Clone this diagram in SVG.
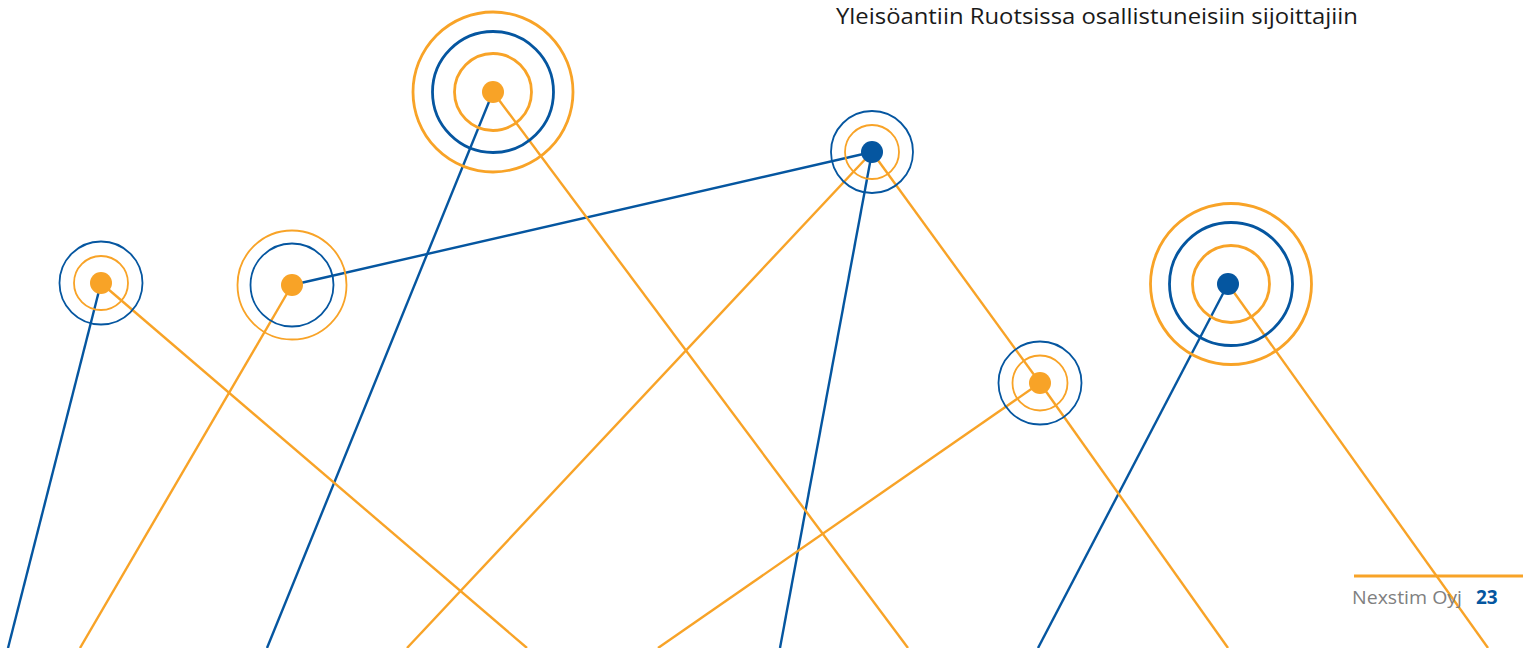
<svg xmlns="http://www.w3.org/2000/svg" width="1523" height="648" viewBox="0 0 1523 648">
<style>
.o{stroke:#F8A327;fill:none}
.b{stroke:#0556A0;fill:none}
.lo{stroke:#F8A327;stroke-width:2.4;fill:none}
.lb{stroke:#0556A0;stroke-width:2.4;fill:none}
.thin{stroke-width:1.8}
.thick{stroke-width:2.8}
.dO{fill:#F8A327}
.dB{fill:#0556A0}
</style>
<rect width="1523" height="648" fill="#ffffff"/>
<g id="connectors">
<line class="lb" x1="101" y1="283" x2="8" y2="648"/>
<line class="lb" x1="292" y1="285" x2="872" y2="152"/>
<line class="lb" x1="493" y1="92" x2="267" y2="648"/>
<line class="lb" x1="872" y1="152" x2="780" y2="648"/>
<line class="lb" x1="1228" y1="284" x2="1038" y2="648"/>
<line class="lo" x1="101" y1="283" x2="527" y2="648"/>
<line class="lo" x1="292" y1="285" x2="80" y2="648"/>
<line class="lo" x1="493" y1="92" x2="908" y2="648"/>
<line class="lo" x1="872" y1="152" x2="407" y2="648"/>
<line class="lo" x1="872" y1="152" x2="1040" y2="383"/>
<line class="lo" x1="1040" y1="383" x2="1228" y2="648"/>
<line class="lo" x1="1040" y1="383" x2="658" y2="648"/>
<line class="lo" x1="1228" y1="284" x2="1488" y2="648"/>
</g>
<g id="node-a">
<circle class="o thick" cx="493" cy="92" r="80"/>
<circle class="b thick" cx="493" cy="92" r="60.5"/>
<circle class="o thick" cx="493" cy="92" r="38.5"/>
<circle class="dO" cx="493" cy="92" r="11"/>
</g>
<g id="node-b">
<circle class="b thin" cx="872" cy="152" r="41"/>
<circle class="o thin" cx="872" cy="152" r="27"/>
<circle class="dB" cx="872" cy="152" r="11"/>
</g>
<g id="node-c">
<circle class="b thin" cx="101" cy="283" r="41.5"/>
<circle class="o thin" cx="101" cy="283" r="27"/>
<circle class="dO" cx="101" cy="283" r="11"/>
</g>
<g id="node-d">
<circle class="o thin" cx="292" cy="285" r="54.5"/>
<circle class="b thin" cx="292" cy="285" r="41.5"/>
<circle class="dO" cx="292" cy="285" r="11"/>
</g>
<g id="node-e">
<circle class="o thick" cx="1231" cy="284" r="80.5"/>
<circle class="b thick" cx="1231" cy="284" r="61.5"/>
<circle class="o thick" cx="1231" cy="284" r="38.5"/>
<circle class="dB" cx="1228" cy="284" r="11"/>
</g>
<g id="node-f">
<circle class="b thin" cx="1040" cy="383" r="41.5"/>
<circle class="o thin" cx="1040" cy="383" r="27.5"/>
<circle class="dO" cx="1040" cy="383" r="11"/>
</g>
<g id="title">
<text x="836" y="24" font-family="'Open Sans','Noto Sans',sans-serif" font-size="22.5" fill="#1a1a1a" textLength="522" lengthAdjust="spacingAndGlyphs">Yleisöantiin Ruotsissa osallistuneisiin sijoittajiin</text>
</g>
<g id="footer">
<line x1="1354" y1="576" x2="1523" y2="576" stroke="#F8A327" stroke-width="3.2"/>
<text x="1352" y="604" font-family="'Open Sans','Noto Sans',sans-serif" font-size="18" fill="#808080" textLength="110" lengthAdjust="spacingAndGlyphs">Nexstim Oyj</text>
<text x="1476" y="604" font-family="'Open Sans','Noto Sans',sans-serif" font-size="19" font-weight="bold" fill="#0556A0">23</text>
</g>
</svg>
